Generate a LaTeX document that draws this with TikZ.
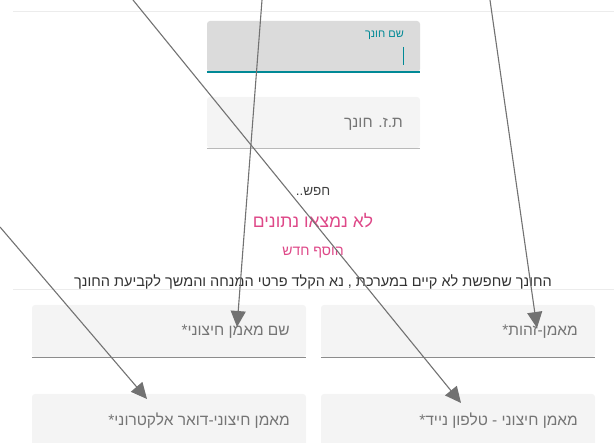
\documentclass[tikz,border=0pt]{standalone}
\usepackage{fontspec}
\usepackage{tikz}
\usetikzlibrary{arrows.meta,positioning}
\TeXXeTstate=1
\newfontfamily\hebfont[Script=Hebrew]{Liberation Sans}
\definecolor{fieldgray}{HTML}{F4F4F4}
\definecolor{focusgray}{HTML}{DBDBDB}
\definecolor{hintgray}{HTML}{757575}
\definecolor{linegray}{HTML}{8C8C8C}
\definecolor{sepgray}{HTML}{ECECEC}
\definecolor{arrowgray}{HTML}{727272}
\definecolor{tealline}{RGB}{0,137,150}
\definecolor{pinktext}{RGB}{222,72,136}

\begin{document}
\begin{tikzpicture}[x=1pt,y=-1pt,
  field/.style={fill=fieldgray,rounded corners=3pt,inner sep=0pt,minimum width=274pt,minimum height=52pt},
  hint/.style={anchor=east,inner sep=0pt,text=hintgray,font=\fontsize{15.5}{17}\hebfont},
  pointer/.style={draw=arrowgray,line width=1.1pt,-{Triangle[length=16pt,width=15pt]}}]
\useasboundingbox (0,0) rectangle (614,443);
%\draw[step=10,color=gray] (0,0) grid (614,443);
\draw[sepgray,line width=1pt] (13,12) -- (614,12);
\draw[sepgray,line width=1pt] (13,290) -- (614,290);
% search fields
\node[field,fill=focusgray,minimum width=213pt,minimum height=51pt] (name) at (313.5,46.5) {};
\draw[tealline,line width=2pt] (name.south west) -- (name.south east);
\node[anchor=east,inner sep=0pt,text=tealline,font=\fontsize{11}{13}\hebfont] (namelbl) at (404,35) {\beginR שם חונך\endR};
\draw[tealline,line width=1pt] (403,47) -- (403,65);
\node[field,minimum width=213pt,minimum height=51pt] (id) at (313.5,122.5) {};
\draw[gray!55,line width=1.2pt] (id.south west) -- (id.south east);
\node[hint] (idtxt) at (403,124) {\beginR ת.ז. חונך\endR};
% messages
\node[text=black!75,font=\fontsize{13.5}{15}\hebfont] (search) at (313,191) {\beginR חפש..\endR};
\node[text=pinktext,font=\fontsize{17.5}{20}\hebfont] (nodata) at (313,221) {\beginR לא נמצאו נתונים\endR};
\node[text=pinktext,font=\fontsize{14}{16}\hebfont] (addnew) at (313,253) {\beginR הוסף חדש\endR};
\node[text=black!80,font=\fontsize{14.5}{16}\hebfont] (notice) at (313,282)
  {\beginR החונך שחפשת לא קיים במערכת , נא הקלד פרטי המנחה והמשך לקביעת החונך\endR};
% coach fields
\node[field] (cname) at (169,331) {};
\node[field] (cid) at (458,331) {};
\node[field] (cmail) at (169,420) {};
\node[field] (cphone) at (458,420) {};
\draw[linegray,line width=1pt] (cname.south west) -- (cname.south east);
\draw[linegray,line width=1pt] (cid.south west) -- (cid.south east);
\node[hint] (cnametxt) at (290,332) {\beginR שם מאמן חיצוני*\endR};
\node[hint] (cidtxt) at (578,332) {\beginR מאמן-זהות*\endR};
\node[hint] (cmailtxt) at (290,421) {\beginR מאמן חיצוני-דואר אלקטרוני*\endR};
\node[hint] (cphonetxt) at (578,421) {\beginR מאמן חיצוני - טלפון נייד*\endR};
% pointers
\coordinate (s1) at (262,0);
\coordinate (e1) at (237,327);
\coordinate (s2) at (133,0);
\coordinate (e2) at (461,403);
\coordinate (s3) at (490,0);
\coordinate (e3) at (537,328);
\coordinate (s4) at (0,227);
\coordinate (e4) at (147,399);
\draw[pointer] (s1) -- (e1);
\draw[pointer] (s2) -- (e2);
\draw[pointer] (s3) -- (e3);
\draw[pointer] (s4) -- (e4);
\end{tikzpicture}
\end{document}
